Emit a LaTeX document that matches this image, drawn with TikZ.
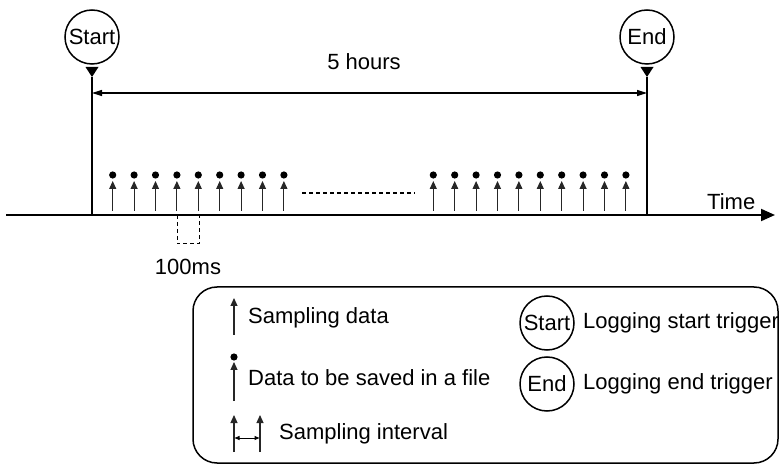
\documentclass[tikz,border=0pt]{standalone}
\usepackage{fontspec}
\setmainfont{Liberation Sans}
\usepackage{tikz}
\usetikzlibrary{arrows.meta}

\begin{document}
\begin{tikzpicture}[x=1pt, y=-1pt,
		font=\fontsize{22}{25}\selectfont,
		trig/.style={draw, circle, line width=1.5pt, minimum size=54pt, inner sep=0pt},
		txt/.style={inner sep=0pt, anchor=west},
		samp/.style={line width=1.1pt, black!85, -{Triangle[length=8pt, width=7pt]}},
		span/.style={line width=1.2pt, {Triangle[length=10pt, width=6pt]}-{Triangle[length=10pt, width=6pt]}}]
			\useasboundingbox (0,0) rectangle (780,465);
			% Trigger circles and markers
			\node[trig] (start) at (92,37) {Start};
			\node[trig] (end) at (647,37) {End};
			\coordinate (sTop) at (92,77);
			\coordinate (eTop) at (647,77);
			\coordinate (sBot) at (92,215);
			\coordinate (eBot) at (647,215);
			\fill (sTop) -- ++(-6.5,-10) -- ++(13,0) -- cycle;
			\fill (eTop) -- ++(-6.5,-10) -- ++(13,0) -- cycle;
			\draw[line width=1.2pt] (sTop) -- (sBot);
			\draw[line width=1.2pt] (eTop) -- (eBot);
			% Duration
			\coordinate (sMid) at (92,93);
			\coordinate (eMid) at (647,93);
			\draw[span] (sMid) -- (eMid);
			\node (hours) at (364,62) {5 hours};
			% Timeline arrow
			\coordinate (ax0) at (6,215);
			\coordinate (ax1) at (775,215);
			\draw[line width=1.9pt, -{Triangle[length=14pt, width=12pt]}] (ax0) -- (ax1);
			\node[txt] (time) at (707,202) {Time};
			% Sampling data
			\foreach \k in {0,...,8}{
				\draw[samp] (112.7+21.4*\k,211) -- (112.7+21.4*\k,181);
				\fill (112.7+21.4*\k,175) circle (3.6);
			}
			\foreach \k in {0,...,9}{
				\draw[samp] (433.3+21.4*\k,211) -- (433.3+21.4*\k,181);
				\fill (433.3+21.4*\k,175) circle (3.6);
			}
			\coordinate (gap0) at (302,193);
			\coordinate (gap1) at (415,193);
			\draw[line width=1.2pt, dash pattern=on 4pt off 3pt] (gap0) -- (gap1);
			% Interval
			\coordinate (iv0) at (177,215);
			\coordinate (iv1) at (199,215);
			\draw[line width=1pt, dash pattern=on 4pt off 3pt] (iv0) -- ++(0,29) -| (iv1);
			\node (ms) at (188,267) {100ms};
			% Legend
			\draw[line width=1.5pt, rounded corners=24pt] (193,287) rectangle (778,463);
			\draw[samp] (234,335) -- (234,298);
			\node[txt] (l1) at (248,318) {Sampling data};
			\draw[samp] (234,401) -- (234,362);
			\fill (234,357) circle (3.6);
			\node[txt] (l2) at (248,378) {Data to be saved in a file};
			\draw[samp] (234,452) -- (234,415);
			\draw[samp] (260,452) -- (260,415);
			\draw[line width=1pt, {Triangle[length=5pt, width=4pt]}-{Triangle[length=5pt, width=4pt]}] (234.5,438) -- (259.5,438);
			\node[txt] (l3) at (279,434) {Sampling interval};
			\node[trig] (lstart) at (547,323) {Start};
			\node[txt] (l4) at (583,323) {Logging start trigger};
			\node[trig] (lend) at (547,384) {End};
			\node[txt] (l5) at (583,384) {Logging end trigger};
		\end{tikzpicture}
\end{document}
